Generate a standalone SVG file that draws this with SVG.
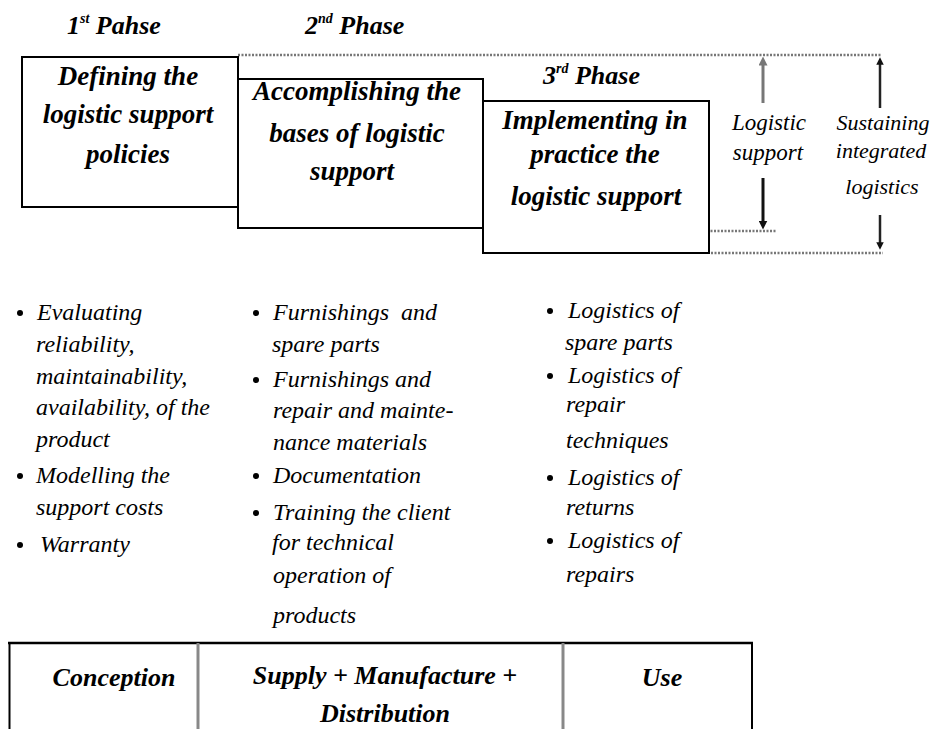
<svg xmlns="http://www.w3.org/2000/svg" width="935" height="729" viewBox="0 0 935 729">
<defs>
<style>
.bg{fill:#fff}
.box{fill:#fff;stroke:#000;stroke-width:2}
.dot{fill:none;stroke:#777;stroke-width:2.5;stroke-dasharray:2 1.5}
.hd{font-family:"Liberation Serif",serif;font-weight:bold;font-style:italic;font-size:26px;fill:#000}
.bx{font-family:"Liberation Serif",serif;font-weight:bold;font-style:italic;font-size:27px;fill:#000;text-anchor:middle}
.li{font-family:"Liberation Serif",serif;font-style:italic;font-size:24px;fill:#000}
.lab{font-family:"Liberation Serif",serif;font-style:italic;font-size:23px;fill:#000;text-anchor:middle}
.tb{font-family:"Liberation Serif",serif;font-weight:bold;font-style:italic;font-size:26px;fill:#000;text-anchor:middle}
.sup{font-size:14px}
.bul{fill:#000}
</style>
<marker id="ahG" viewBox="0 0 10 10" refX="5" refY="5" markerWidth="3" markerHeight="3" orient="auto"><path d="M0,0 L10,5 L0,10 z" fill="#777"/></marker>
<marker id="ahK" viewBox="0 0 10 10" refX="5" refY="5" markerWidth="3" markerHeight="3" orient="auto"><path d="M0,0 L10,5 L0,10 z" fill="#111"/></marker>
</defs>
<rect class="bg" x="0" y="0" width="935" height="729"/>

<g id="phase-titles">
<text class="hd" x="67" y="34">1<tspan class="sup" dy="-11">st</tspan><tspan dy="11"> Pahse</tspan></text>
<text class="hd" x="305" y="34">2<tspan class="sup" dy="-11">nd</tspan><tspan dy="11"> Phase</tspan></text>
<text class="hd" x="543" y="84">3<tspan class="sup" dy="-11">rd</tspan><tspan dy="11"> Phase</tspan></text>
</g>

<g id="connectors">
<line class="dot" x1="238" y1="55" x2="882" y2="55"/>
<line class="dot" x1="483" y1="231" x2="777" y2="231"/>
<line class="dot" x1="711" y1="253" x2="883" y2="253"/>
<line x1="763" y1="103" x2="763" y2="61" stroke="#777" stroke-width="3" marker-end="url(#ahG)"/>
<line x1="763" y1="178" x2="763" y2="225" stroke="#111" stroke-width="3" marker-end="url(#ahK)"/>
<line x1="880" y1="108" x2="880" y2="61" stroke="#222" stroke-width="2.5" marker-end="url(#ahK)"/>
<line x1="880" y1="215" x2="880" y2="246" stroke="#222" stroke-width="2.5" marker-end="url(#ahK)"/>
</g>

<g id="phase1">
<rect class="box" x="22" y="57" width="216" height="150"/>
<text class="bx" x="128" y="85">Defining the</text>
<text class="bx" x="128" y="123">logistic support</text>
<text class="bx" x="128" y="163">policies</text>
</g>

<g id="phase2">
<rect class="box" x="238" y="79" width="245" height="149"/>
<text class="bx" x="357" y="100">Accomplishing the</text>
<text class="bx" x="357" y="142">bases of logistic</text>
<text class="bx" x="352" y="180">support</text>
</g>

<g id="phase3">
<rect class="box" x="483" y="101" width="226" height="152"/>
<text class="bx" x="595" y="129">Implementing in</text>
<text class="bx" x="595" y="163">practice the</text>
<text class="bx" x="596" y="205">logistic support</text>
</g>

<g id="logistic-support-label">
<text class="lab" x="769" y="130">Logistic</text>
<text class="lab" x="768" y="160">support</text>
</g>

<g id="sustaining-label">
<text class="lab" x="883" y="130" style="font-size:22px">Sustaining</text>
<text class="lab" x="881" y="158" style="font-size:22px">integrated</text>
<text class="lab" x="882" y="194" style="font-size:22px">logistics</text>
</g>

<g id="list1">
<circle class="bul" cx="20" cy="313" r="3"/>
<text class="li" x="37" y="320">Evaluating</text>
<text class="li" x="36" y="352">reliability,</text>
<text class="li" x="36" y="384">maintainability,</text>
<text class="li" x="36" y="415">availability, of the</text>
<text class="li" x="36" y="447">product</text>
<circle class="bul" cx="20" cy="476" r="3"/>
<text class="li" x="36" y="483">Modelling the</text>
<text class="li" x="36" y="515">support costs</text>
<circle class="bul" cx="20" cy="545" r="3"/>
<text class="li" x="40" y="552">Warranty</text>
</g>

<g id="list2">
<circle class="bul" cx="256" cy="313" r="3"/>
<text class="li" x="273" y="320" xml:space="preserve">Furnishings  and</text>
<text class="li" x="272" y="352">spare parts</text>
<circle class="bul" cx="256" cy="380" r="3"/>
<text class="li" x="273" y="387">Furnishings and</text>
<text class="li" x="273" y="418">repair and mainte-</text>
<text class="li" x="273" y="450">nance materials</text>
<circle class="bul" cx="256" cy="476" r="3"/>
<text class="li" x="273" y="483">Documentation</text>
<circle class="bul" cx="256" cy="513" r="3"/>
<text class="li" x="273" y="520">Training the client</text>
<text class="li" x="272" y="550">for technical</text>
<text class="li" x="273" y="583">operation of</text>
<text class="li" x="273" y="623">products</text>
</g>

<g id="list3">
<circle class="bul" cx="550" cy="311" r="3"/>
<text class="li" x="568" y="318">Logistics of</text>
<text class="li" x="565" y="350">spare parts</text>
<circle class="bul" cx="550" cy="376" r="3"/>
<text class="li" x="568" y="383">Logistics of</text>
<text class="li" x="566" y="412">repair</text>
<text class="li" x="566" y="448">techniques</text>
<circle class="bul" cx="550" cy="478" r="3"/>
<text class="li" x="568" y="485">Logistics of</text>
<text class="li" x="566" y="515">returns</text>
<circle class="bul" cx="550" cy="541" r="3"/>
<text class="li" x="568" y="548">Logistics of</text>
<text class="li" x="566" y="582">repairs</text>
</g>

<g id="stage-table">
<line x1="8" y1="643" x2="753" y2="643" stroke="#000" stroke-width="2.5"/>
<line x1="9.5" y1="643" x2="9.5" y2="729" stroke="#000" stroke-width="2"/>
<line x1="752" y1="643" x2="752" y2="729" stroke="#000" stroke-width="2"/>
<line x1="198" y1="643" x2="198" y2="729" stroke="#888" stroke-width="3"/>
<line x1="563" y1="643" x2="563" y2="729" stroke="#888" stroke-width="3"/>
</g>
<g id="stage-conception"><text class="tb" x="114" y="686">Conception</text></g>
<g id="stage-supply"><text class="tb" x="385" y="684">Supply + Manufacture +</text><text class="tb" x="385" y="722">Distribution</text></g>
<g id="stage-use"><text class="tb" x="662" y="686">Use</text></g>
</svg>
